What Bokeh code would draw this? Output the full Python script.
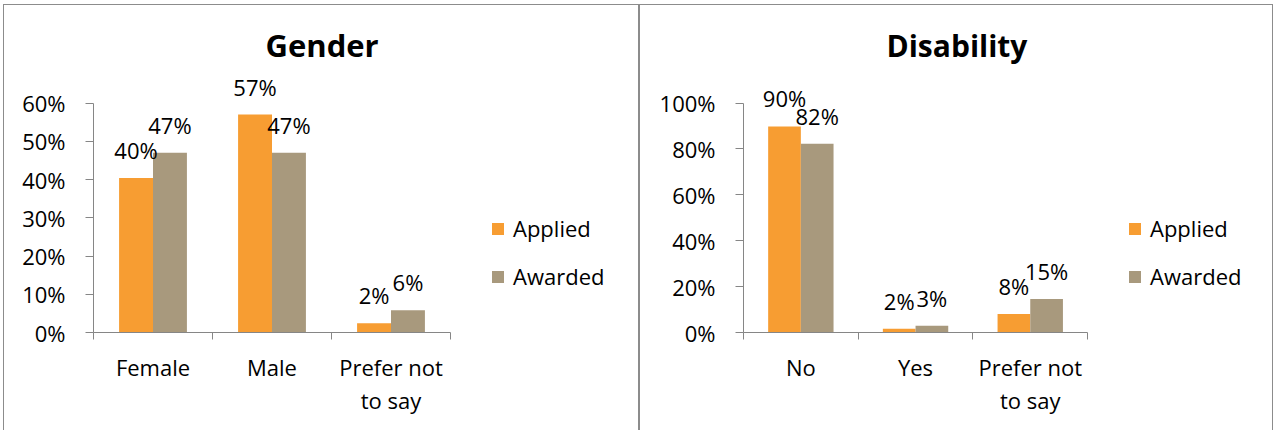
from bokeh.plotting import figure
from bokeh.layouts import row, column
from bokeh.models import (ColumnDataSource, FixedTicker, NumeralTickFormatter, LinearAxis,
                          Legend, LegendItem, Range1d, Title, Spacer)
from bokeh.embed import file_html
from bokeh.resources import INLINE
from bokeh.core.properties import value

# ---------------- data ----------------
series_names = ["Applied", "Awarded"]

gender_categories = ["Female", "Male", "Prefer not\nto say"]
gender_applied = [0.404, 0.570, 0.024]
gender_awarded = [0.470, 0.470, 0.058]
gender_ticks = [0, 0.1, 0.2, 0.3, 0.4, 0.5, 0.6]

disability_categories = ["No", "Yes", "Prefer not\nto say"]
disability_applied = [0.898, 0.016, 0.081]
disability_awarded = [0.823, 0.029, 0.146]
disability_ticks = [0, 0.2, 0.4, 0.6, 0.8, 1.0]

# ---------------- style ----------------
FONT = "Open Sans"
ORANGE = "#F79D32"
TAN = "#A8997D"
AXIS = "#868686"
BORDER = "#8c8c8c"
H = 426
TOP = 64
BOTTOM = 99
AXIS_PX = 229.4
BAR_W = 0.285


def pct(v):
    return f"{round(v * 100)}%"


def panel(title, title_offset, title_size, cats, applied, awarded, ticks, width,
          frame_left, cat_px, legend_x):
    frame_w = width - frame_left
    frame_h = H - TOP - BOTTOM
    ymax = ticks[-1]
    n = len(cats)
    p = figure(width=width, height=H, output_backend="svg", toolbar_location=None,
               x_range=Range1d(0, frame_w / cat_px),
               y_range=Range1d(0, ymax * frame_h / AXIS_PX),
               x_axis_type=None, y_axis_type=None,
               min_border_left=frame_left, min_border_right=0,
               min_border_top=TOP, min_border_bottom=BOTTOM,
               outline_line_color=None, background_fill_color="white",
               border_fill_color="white",
               styles={"border-top": f"1px solid {BORDER}",
                       "border-left": f"1px solid {BORDER}",
                       "border-right": f"1px solid {BORDER}"})
    p.title = Title(text=title, align="left", offset=title_offset, text_font=FONT,
                    text_font_size=title_size, text_font_style="bold", text_color="black",
                    standoff=8)

    centers = [i + 0.5 for i in range(n)]
    src = ColumnDataSource(dict(
        xa=[c - BAR_W / 2 for c in centers],
        xw=[c + BAR_W / 2 for c in centers],
        applied=applied, awarded=awarded,
        la=[pct(v) for v in applied], lw=[pct(v) for v in awarded]))

    r1 = p.vbar(x="xa", top="applied", width=BAR_W, source=src,
                fill_color=ORANGE, line_color=None)
    r2 = p.vbar(x="xw", top="awarded", width=BAR_W, source=src,
                fill_color=TAN, line_color=None)
    for xs, ys, ts in (("xa", "applied", "la"), ("xw", "awarded", "lw")):
        p.text(x=xs, y=ys, text=ts, source=src, text_align="center",
               text_baseline="alphabetic", y_offset=-28, text_font=value(FONT),
               text_font_size="22px", text_color="black")

    xaxis = LinearAxis(
        ticker=FixedTicker(ticks=centers, minor_ticks=list(range(n + 1))),
        bounds=(0, n),
        major_label_overrides={c: cat for c, cat in zip(centers, cats)},
        major_tick_out=0, major_tick_in=0, minor_tick_out=7, minor_tick_in=0,
        axis_line_color=AXIS, minor_tick_line_color=AXIS, major_tick_line_color=None,
        major_label_standoff=12, major_label_text_font=FONT,
        major_label_text_font_size="22px", major_label_text_color="black",
        major_label_text_line_height=1.1)
    p.add_layout(xaxis, "below")

    yaxis = LinearAxis(
        ticker=FixedTicker(ticks=ticks, minor_ticks=[]),
        bounds=(0, ymax),
        formatter=NumeralTickFormatter(format="0%"),
        major_tick_out=8, major_tick_in=0, minor_tick_out=0, minor_tick_in=0,
        axis_line_color=AXIS, major_tick_line_color=AXIS,
        major_label_standoff=20, major_label_text_font=FONT,
        major_label_text_font_size="22px", major_label_text_color="black")
    p.add_layout(yaxis, "left")

    legend = Legend(items=[LegendItem(label=series_names[0], renderers=[r1]),
                           LegendItem(label=series_names[1], renderers=[r2])],
                    location=(legend_x, 41), orientation="vertical",
                    glyph_width=15, glyph_height=15, label_standoff=8, spacing=18,
                    padding=0, margin=0, border_line_color=None,
                    background_fill_alpha=0, label_text_font=FONT,
                    label_text_font_size="22px", label_text_color="black")
    p.add_layout(legend)
    return p


p1 = panel("Gender", 172, "31px", gender_categories, gender_applied, gender_awarded,
           gender_ticks, 636, 89, 119.0, 397)
p2 = panel("Disability", 143, "30px", disability_categories, disability_applied,
           disability_awarded, disability_ticks, 634, 103, 114.7, 384)

layout = column(Spacer(height=4), row(Spacer(width=3), p1, p2, spacing=0), spacing=0)
open("out.html", "w").write(file_html(layout, INLINE))
